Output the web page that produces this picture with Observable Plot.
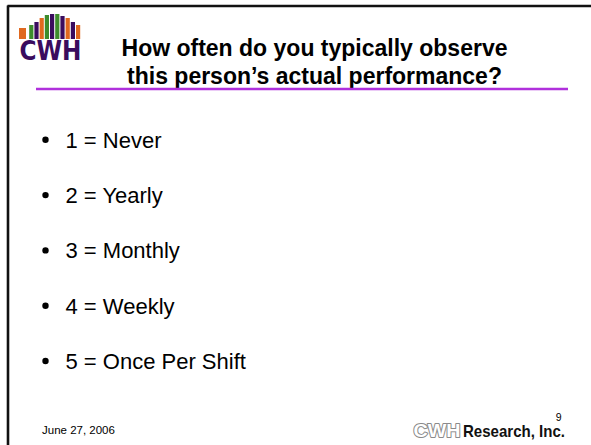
<!DOCTYPE html>
<html><head><meta charset="utf-8">
<script src="https://cdn.jsdelivr.net/npm/d3@7"></script>
<script src="https://cdn.jsdelivr.net/npm/@observablehq/plot@0.6"></script>
<style>html,body{margin:0;padding:0;background:#fff;overflow:hidden}</style>
</head><body><div id="chart"></div>
<script>
// ---- content ----
const titleLines = ["How often do you typically observe", "this person’s actual performance?"];
const scaleValues = [1, 2, 3, 4, 5];
const scaleLabels = ["Never", "Yearly", "Monthly", "Weekly", "Once Per Shift"];
const footerDate = "June 27, 2006";
const pageNumber = "9";
const companyMark = "CWH";
const companyName = "Research, Inc.";
const logoText = "CWH";
const logoColors = ["#e0691f", "#3d8c2c", "#3a0c5e", "#e0691f", "#3d8c2c", "#3a0c5e", "#3d8c2c", "#3a0c5e", "#e0691f", "#3a0c5e", "#e0691f"];
const logoRise = [0, 3, 6, 10, 13, 14, 14, 12, 10, 6, 3];

// ---- layout ----
const W = 591, H = 445;
const font = "Liberation Sans, Arial, Helvetica, sans-serif";
const bullets = scaleValues.map((v, i) => ({v, label: `${v} = ${scaleLabels[i]}`, i}));
const bulletBase = i => 147.3 + i * 55.3;
const stripes = logoColors.map((c, i) => {
  const x1 = i === 0 ? 19 : 24 + i * 5.2;
  const x2 = i === 0 ? 26 : x1 + 4.2;
  return {c, x1, x2, y1: 28 - logoRise[i], y2: 39};
});

const chart = Plot.plot({
  width: W, height: H,
  margin: 0,
  x: {domain: [0, W], range: [0, W], axis: null},
  y: {domain: [0, H], range: [0, H], axis: null},
  color: {type: "identity"},
  marks: [
    // slide frame
    Plot.ruleY([5.5], {x1: 7.5, x2: W, stroke: "#111", strokeWidth: 2.6}),
    Plot.ruleX([7.5], {y1: 5.5, y2: H, stroke: "#111", strokeWidth: 2.6}),
    // logo
    Plot.rect(stripes, {x1: "x1", x2: "x2", y1: "y1", y2: "y2", fill: "c"}),
    Plot.text([logoText], {x: 50, y: 59.5, text: d => d, fill: "#3a0c5e", fontSize: 27, fontWeight: "bold", fontFamily: "DejaVu Sans, sans-serif", lineAnchor: "bottom", textAnchor: "middle", className: "logo-text"}),
    // title
    Plot.text(titleLines, {x: 314, y: (d, i) => 55 + i * 28, text: d => d, fontSize: 23, fontWeight: "bold", fontFamily: font, fill: "#000", lineAnchor: "bottom", textAnchor: "middle"}),
    Plot.ruleY([88.5], {x1: 36, x2: 568, stroke: "#b030dc", strokeWidth: 2.5}),
    // bullets
    Plot.dot(bullets, {x: 45, y: d => bulletBase(d.i) - 8, r: 3.2, fill: "#000", stroke: null}),
    Plot.text(bullets, {x: 65, y: d => bulletBase(d.i), text: "label", fontSize: 22, fontFamily: font, fill: "#000", lineAnchor: "bottom", textAnchor: "start"}),
    // footer
    Plot.text([footerDate], {x: 41.5, y: 433, text: d => d, fontSize: 11.5, fontFamily: font, fill: "#000", lineAnchor: "bottom", textAnchor: "start"}),
    Plot.text([pageNumber], {x: 561, y: 420, text: d => d, fontSize: 10.5, fontFamily: font, fill: "#000", lineAnchor: "bottom", textAnchor: "end"}),
    Plot.text([companyMark], {x: 413, y: 436, text: d => d, fontSize: 19, fontWeight: "bold", fontFamily: font, fill: "#fff", stroke: "#8a8a8a", strokeWidth: 2, lineAnchor: "bottom", textAnchor: "start", className: "co-mark"}),
    Plot.text([companyName], {x: 462.5, y: 436, text: d => d, fontSize: 17, fontWeight: "bold", fontFamily: font, fill: "#111", lineAnchor: "bottom", textAnchor: "start", className: "co-name"})
  ]
});
document.getElementById("chart").appendChild(chart);
// fit a few pieces of text to their measured widths
const fit = (cls, len) => d3.select(chart).selectAll(`.${cls} text`).attr("textLength", len).attr("lengthAdjust", "spacingAndGlyphs");
fit("logo-text", 62);
fit("co-mark", 47);
fit("co-name", 102);
</script>
</body></html>
